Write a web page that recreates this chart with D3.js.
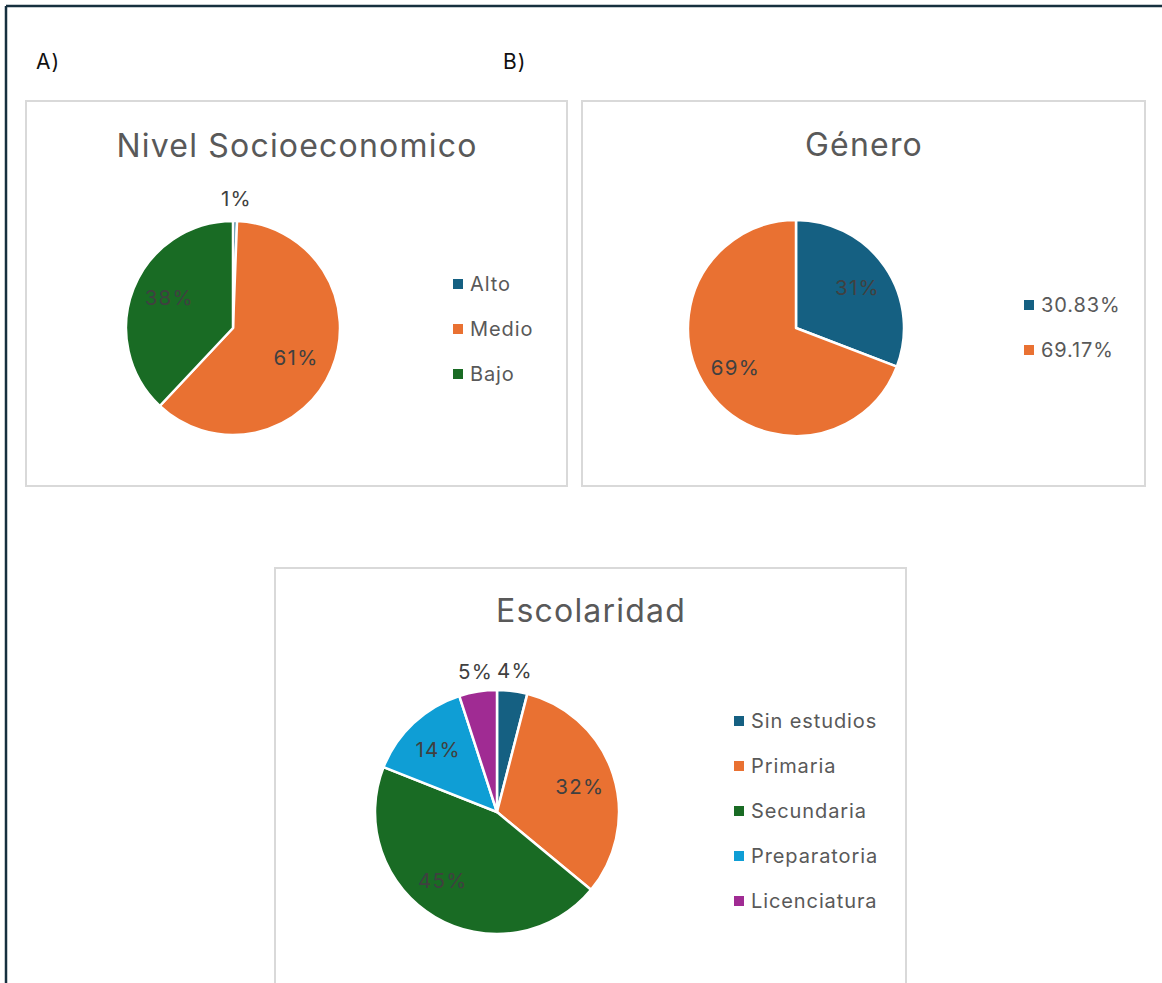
<!DOCTYPE html>
<html><head><meta charset="utf-8">
<script src="https://cdn.jsdelivr.net/npm/d3@7"></script>
<style>
html,body{margin:0;padding:0;background:#fff;}
svg{display:block;}
text{font-family:Inter,"Open Sans",sans-serif;}
</style></head>
<body>
<script>
// ---- data ----
const nivelCategories = ["Alto", "Medio", "Bajo"];
const nivelValues = [0.6, 61.4, 38];
const generoCategories = ["30.83%", "69.17%"];
const generoValues = [30.83, 69.17];
const escolaridadCategories = ["Sin estudios", "Primaria", "Secundaria", "Preparatoria", "Licenciatura"];
const escolaridadValues = [4, 32, 45, 14, 5];
const palette = ["#156082", "#E97132", "#196B24", "#0F9ED5", "#A02B93"];

const W = 1162, H = 983;
const svg = d3.select("body").append("svg").attr("width", W).attr("height", H);

// outer frame (top and left edges visible)
svg.append("line").attr("x1", 6).attr("y1", 6).attr("x2", W).attr("y2", 6).attr("stroke", "#17303f").attr("stroke-width", 2.5);
svg.append("line").attr("x1", 6).attr("y1", 6).attr("x2", 6).attr("y2", H).attr("stroke", "#17303f").attr("stroke-width", 2.5);

svg.append("text").attr("x", 36).attr("y", 69).attr("font-size", 21).attr("letter-spacing", 1).attr("fill", "#111").text("A)");
svg.append("text").attr("x", 503).attr("y", 69).attr("font-size", 21).attr("letter-spacing", 1).attr("fill", "#111").text("B)");

function panel(cfg) {
  const g = svg.append("g");
  g.append("rect").attr("x", cfg.x).attr("y", cfg.y).attr("width", cfg.w).attr("height", cfg.h)
    .attr("fill", "#fff").attr("stroke", "#d9d9d9").attr("stroke-width", 2);
  g.append("text").attr("x", cfg.titleX).attr("y", cfg.titleY).attr("text-anchor", "middle")
    .attr("font-size", 32).attr("letter-spacing", 1.2).attr("fill", "#595959").text(cfg.title);

  const total = d3.sum(cfg.values);
  const data = cfg.values.map((v, i) => ({ v, i, cat: cfg.cats[i] }));
  const pie = d3.pie().value(d => d.v).sort(null);
  const arcs = pie(data);
  const arc = d3.arc().innerRadius(0).outerRadius(cfg.r);
  const color = d3.scaleOrdinal().domain(d3.range(palette.length)).range(palette);
  const pg = g.append("g").attr("transform", `translate(${cfg.cx},${cfg.cy})`);
  pg.selectAll("path").data(arcs).join("path")
    .attr("d", arc).attr("fill", d => color(d.data.i))
    .attr("stroke", "#fff").attr("stroke-width", 2.5).attr("stroke-linejoin", "round");
  const labelArc = d3.arc().innerRadius(cfg.r * 0.68).outerRadius(cfg.r * 0.68);
  const outArc = d3.arc().innerRadius(cfg.r + 22).outerRadius(cfg.r + 22);
  pg.selectAll("text.lbl").data(arcs).join("text").attr("class", "lbl")
    .attr("transform", (d, k) => {
      const o = cfg.outside && cfg.outside[k];
      let p = o ? outArc.centroid(d) : labelArc.centroid(d);
      if (cfg.labelOffset && cfg.labelOffset[k]) { p = [p[0] + cfg.labelOffset[k][0], p[1] + cfg.labelOffset[k][1]]; }
      return `translate(${p[0]},${p[1]})`;
    })
    .attr("text-anchor", "middle").attr("dy", "0.35em")
    .attr("font-size", 20.5).attr("letter-spacing", 1.3).attr("fill", "#404040")
    .text(d => Math.round(d.data.v / total * 100) + "%");

  const lg = g.append("g").attr("transform", `translate(${cfg.lx},${cfg.ly})`);
  const items = lg.selectAll("g").data(data).join("g")
    .attr("transform", (d, k) => `translate(0,${k * cfg.lstep})`);
  items.append("rect").attr("x", 0).attr("y", -5).attr("width", 10).attr("height", 10)
    .attr("fill", d => color(d.i));
  items.append("text").attr("x", 17).attr("dy", "0.36em").attr("font-size", 20).attr("letter-spacing", 0.9).attr("fill", "#595959")
    .text(d => d.cat);
}

panel({ x: 26, y: 101, w: 541, h: 385, title: "Nivel Socioeconomico", titleX: 297, titleY: 157,
  cx: 233, cy: 328, r: 107, values: nivelValues, cats: nivelCategories,
  outside: [true, false, false], labelOffset: [[1, 0], [-4, 2], [4, -3]],
  lx: 453, ly: 284, lstep: 45 });

panel({ x: 582, y: 101, w: 563, h: 385, title: "Género", titleX: 864, titleY: 156,
  cx: 796, cy: 328, r: 108, values: generoValues, cats: generoCategories,
  labelOffset: [[1, 1], [0, -2]],
  lx: 1024, ly: 305, lstep: 45 });

panel({ x: 275, y: 568, w: 631, h: 430, title: "Escolaridad", titleX: 591, titleY: 622,
  cx: 497, cy: 812, r: 122, values: escolaridadValues, cats: escolaridadCategories,
  outside: [true, false, false, false, true], labelOffset: [[0, 2], [4, 0], [-12, -3], [-2, -2], [1, 2]],
  lx: 734, ly: 721, lstep: 45 });
</script>
</body></html>
